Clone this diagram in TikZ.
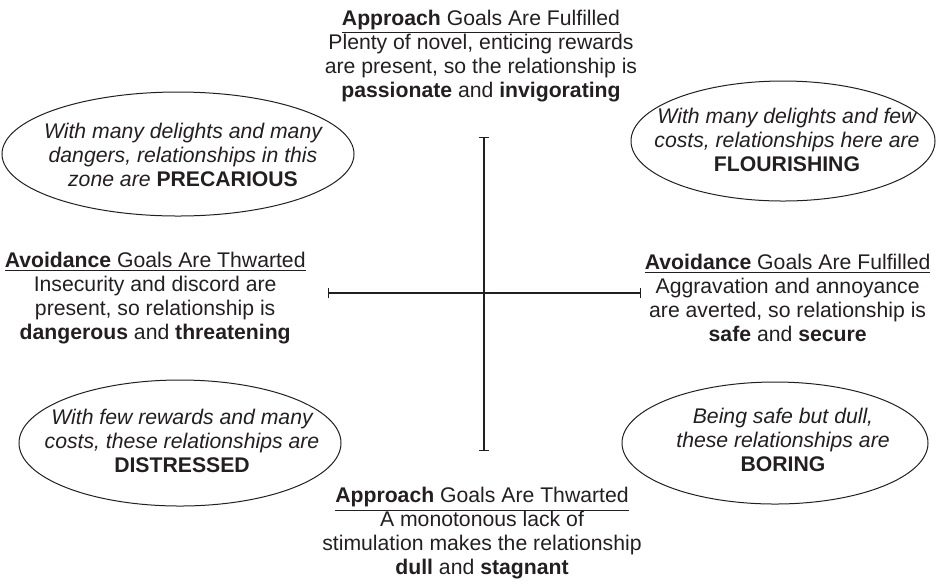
\documentclass[tikz,border=0pt]{standalone}
\usepackage{fontspec}
\setmainfont{Liberation Sans}
\usetikzlibrary{shapes.geometric, arrows.meta, positioning}
\usepackage{xcolor}
\definecolor{Ink}{RGB}{35, 31, 32}
\tikzset{
    goal/.style={
        align=center, text=Ink, inner sep=0pt,
        font=\fontsize{10.6}{12}\selectfont
    },
    zone/.style={
        ellipse, draw=Ink, line width=0.5pt, inner sep=0pt
    },
    zonetext/.style={
        align=center, text=Ink, inner sep=0pt,
        font=\fontsize{10.6}{12}\selectfont\itshape
    },
    axis/.style={
        draw=Ink, line width=0.55pt, {Bar[width=5pt]}-{Bar[width=5pt]}
    }
}

\begin{document}
\begin{tikzpicture}[x=0.5pt, y=-0.5pt]
    \useasboundingbox (0,0) rectangle (936,586);

    % AXES
    \coordinate (axT) at (484,137);
    \coordinate (axB) at (484,451);
    \coordinate (axL) at (328,293);
    \coordinate (axR) at (641,293);
    \draw[axis] (axT) -- (axB);
    \draw[axis] (axL) -- (axR);

    % GOALS
    \node[goal, above=17.5pt of axT, xshift=-1.5pt] (appF) {
        \underline{\textbf{Approach} Goals Are Fulfilled} \\
        Plenty of novel, enticing rewards \\
        are present, so the relationship is \\
        \textbf{passionate} and \textbf{invigorating}
    };
    \node[goal, below=18pt of axB, xshift=-1pt] (appT) {
        \underline{\textbf{Approach} Goals Are Thwarted} \\
        A monotonous lack of \\
        stimulation makes the relationship \\
        \textbf{dull} and \textbf{stagnant}
    };
    \node[goal, left=11pt of axL, yshift=-2.5pt] (avoT) {
        \underline{\textbf{Avoidance} Goals Are Thwarted} \\
        Insecurity and discord are \\
        present, so relationship is \\
        \textbf{dangerous} and \textbf{threatening}
    };
    \node[goal, right=1.75pt of axR, yshift=-2.5pt] (avoF) {
        \underline{\textbf{Avoidance} Goals Are Fulfilled} \\
        Aggravation and annoyance \\
        are averted, so relationship is \\
        \textbf{safe} and \textbf{secure}
    };

    % ZONES
    \node[zone, minimum width=176pt, minimum height=62pt] (precariousRim) at (178,154) {};
    \node[zonetext] (precarious) at (183,155) {
        With many delights and many \\
        dangers, relationships in this \\
        zone are \textbf{\upshape PRECARIOUS}
    };
    \node[zone, minimum width=152pt, minimum height=60pt] (flourishingRim) at (783,141) {};
    \node[zonetext] (flourishing) at (787,140) {
        With many delights and few \\
        costs, relationships here are \\
        \textbf{\upshape FLOURISHING}
    };
    \node[zone, minimum width=161pt, minimum height=63pt] (distressedRim) at (180,443) {};
    \node[zonetext] (distressed) at (182,441) {
        With few rewards and many \\
        costs, these relationships are \\
        \textbf{\upshape DISTRESSED}
    };
    \node[zone, minimum width=153pt, minimum height=61pt] (boringRim) at (775,443) {};
    \node[zonetext] (boring) at (783,440) {
        Being safe but dull, \\
        these relationships are \\
        \textbf{\upshape BORING}
    };

\end{tikzpicture}
\end{document}
